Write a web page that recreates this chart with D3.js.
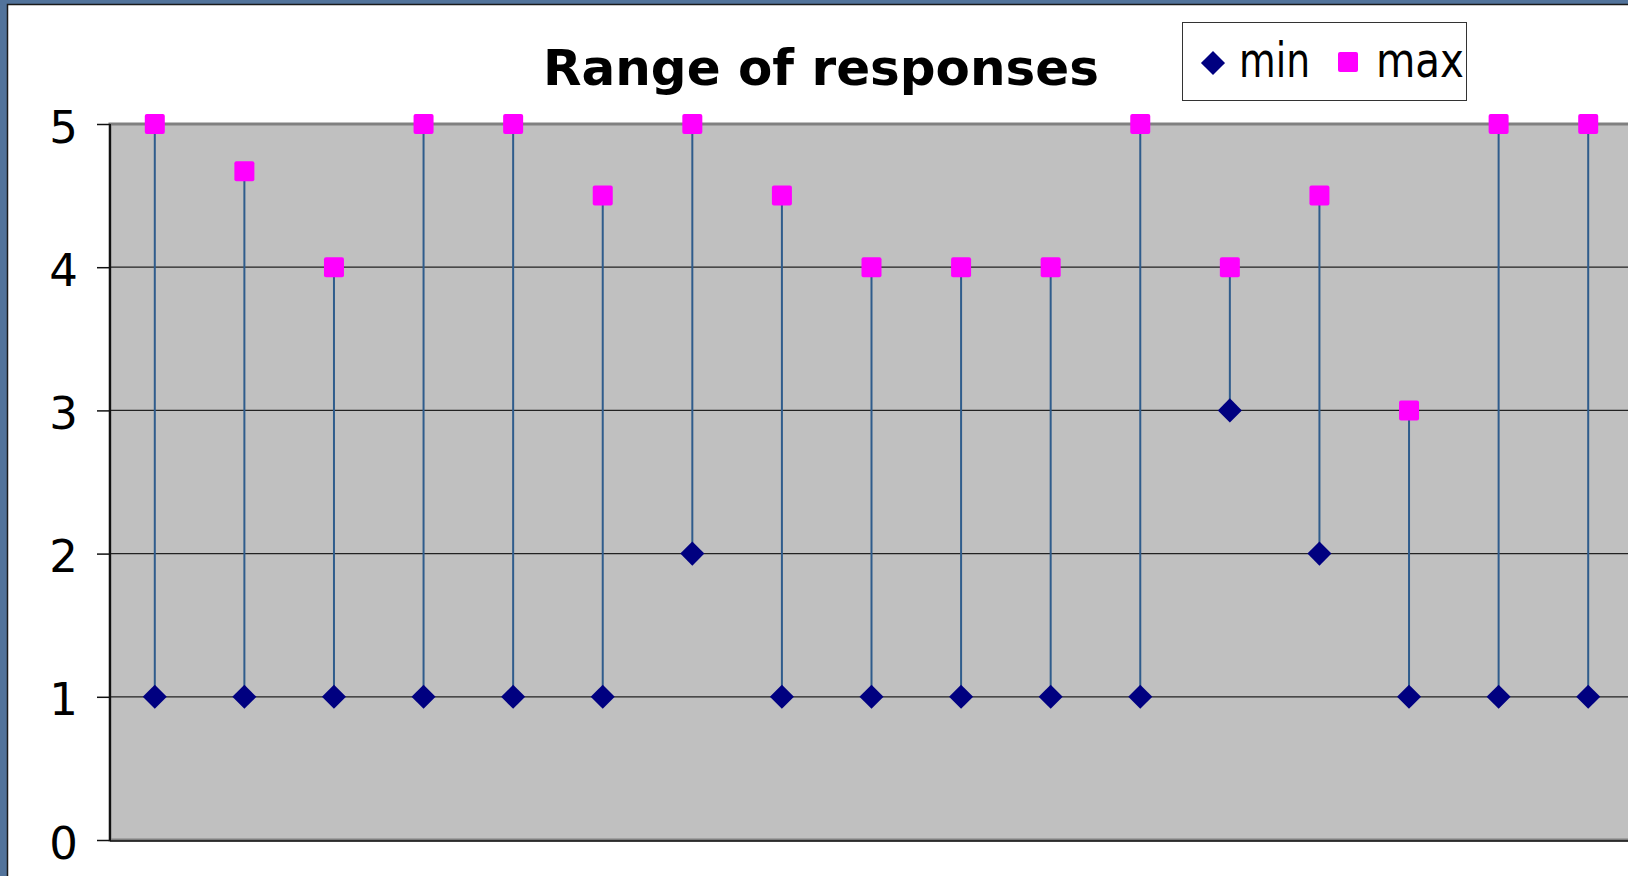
<!DOCTYPE html>
<html>
<head>
<meta charset="utf-8">
<script src="https://cdn.jsdelivr.net/npm/d3@7"></script>
<style>
  body { margin: 0; background: #52739b; }
  svg { display: block; }
</style>
</head>
<body>
<div id="chart"></div>
<script>
// data
const categories = ["1", "2", "3", "4", "5", "6", "7", "8", "9",
    "10", "11", "12", "13", "14", "15", "16", "17"];
const minValues = [1, 1, 1, 1, 1, 1, 2, 1, 1, 1, 1, 1, 3, 2, 1, 1, 1];
const maxValues = [5, 4.67, 4, 5, 5, 4.5, 5, 4.5, 4, 4, 4, 5, 4, 4.5, 3, 5, 5];
const yTicks = [0, 1, 2, 3, 4, 5];

const W = 1628, H = 876;
const plot = {left: 110, top: 124, right: 1633, bottom: 840};

let svg = d3.select("#chart").append("svg")
    .attr("width", W)
    .attr("height", H);

// slide frame
svg.append("rect")
    .attr("x", 0).attr("y", 0)
    .attr("width", W).attr("height", H)
    .style("fill", "#52739b");

svg.append("rect")
    .attr("x", 7.5).attr("y", 4.5)
    .attr("width", W).attr("height", H)
    .style("fill", "white")
    .style("stroke", "#1a1a1a")
    .style("stroke-width", 1.5);

let x = d3.scaleBand()
    .domain(categories)
    .range([plot.left, plot.right]);

let y = d3.scaleLinear()
    .domain([0, 5])
    .range([plot.bottom, plot.top]);

// plot area
svg.append("rect")
    .attr("x", plot.left).attr("y", plot.top)
    .attr("width", plot.right - plot.left)
    .attr("height", plot.bottom - plot.top)
    .style("fill", "#c0c0c0")
    .style("stroke", "#808080")
    .style("stroke-width", 3);

// gridlines
svg.append("g")
    .selectAll("line")
    .data(yTicks.filter(d => d > 0 && d < 5))
    .enter()
    .append("line")
    .attr("x1", plot.left)
    .attr("x2", plot.right)
    .attr("y1", d => y(d))
    .attr("y2", d => y(d))
    .style("stroke", "#222")
    .style("stroke-width", 1.2);

// y axis
let yAxis = svg.append("g")
    .attr("transform", "translate(" + plot.left + ",0)")
    .call(d3.axisLeft(y).tickValues(yTicks).tickSize(13).tickPadding(0).tickFormat(d3.format("d")));

yAxis.select(".domain").remove();
yAxis.selectAll(".tick line")
    .style("stroke", "#111")
    .style("stroke-width", 1.5);
yAxis.selectAll(".tick text")
    .attr("x", -32)
    .attr("dy", "18px")
    .style("font-family", "DejaVu Sans, Verdana, sans-serif")
    .style("font-size", "45px")
    .style("fill", "black");

svg.append("line")
    .attr("x1", plot.left).attr("x2", plot.left)
    .attr("y1", plot.top).attr("y2", plot.bottom + 1)
    .style("stroke", "#111")
    .style("stroke-width", 2);

svg.append("line")
    .attr("x1", plot.left).attr("x2", plot.right)
    .attr("y1", plot.bottom + 1).attr("y2", plot.bottom + 1)
    .style("stroke", "#111")
    .style("stroke-width", 1.5);

let cx = d => x(d) + x.bandwidth() / 2;

// high-low lines
svg.append("g")
    .selectAll("line")
    .data(categories)
    .enter()
    .append("line")
    .attr("x1", d => cx(d))
    .attr("x2", d => cx(d))
    .attr("y1", (d, i) => y(maxValues[i]))
    .attr("y2", (d, i) => y(minValues[i]))
    .style("stroke", "#2f5c8c")
    .style("stroke-width", 2);

let diamond = d3.symbol().type(d3.symbolSquare).size(290);

// min markers
svg.append("g")
    .selectAll("path")
    .data(categories)
    .enter()
    .append("path")
    .attr("d", diamond)
    .attr("transform", (d, i) => "translate(" + cx(d) + "," + y(minValues[i]) + ") rotate(45)")
    .style("fill", "#000080");

// max markers
svg.append("g")
    .selectAll("rect")
    .data(categories)
    .enter()
    .append("rect")
    .attr("x", d => cx(d) - 10)
    .attr("y", (d, i) => y(maxValues[i]) - 10)
    .attr("width", 20)
    .attr("height", 20)
    .attr("rx", 2)
    .style("fill", "#ff00ff");

// title
svg.append("text")
    .attr("x", 821)
    .attr("y", 85)
    .attr("text-anchor", "middle")
    .style("font-family", "DejaVu Sans, Verdana, sans-serif")
    .style("font-weight", "bold")
    .style("font-size", "50px")
    .text("Range of responses");

// legend
let legend = svg.append("g");

legend.append("rect")
    .attr("x", 1182.5).attr("y", 22.5)
    .attr("width", 284).attr("height", 78)
    .style("fill", "white")
    .style("stroke", "#333")
    .style("stroke-width", 1);

legend.append("path")
    .attr("d", diamond)
    .attr("transform", "translate(1213,63) rotate(45)")
    .style("fill", "#000080");

legend.append("rect")
    .attr("x", 1338).attr("y", 52)
    .attr("width", 20).attr("height", 20)
    .attr("rx", 2)
    .style("fill", "#ff00ff");

legend.append("text")
    .attr("x", 1239)
    .attr("y", 77)
    .attr("textLength", 71)
    .attr("lengthAdjust", "spacingAndGlyphs")
    .style("font-family", "DejaVu Sans, Verdana, sans-serif")
    .style("font-size", "48px")
    .text("min");

legend.append("text")
    .attr("x", 1376)
    .attr("y", 77)
    .attr("textLength", 88)
    .attr("lengthAdjust", "spacingAndGlyphs")
    .style("font-family", "DejaVu Sans, Verdana, sans-serif")
    .style("font-size", "48px")
    .text("max");
</script>
</body>
</html>
